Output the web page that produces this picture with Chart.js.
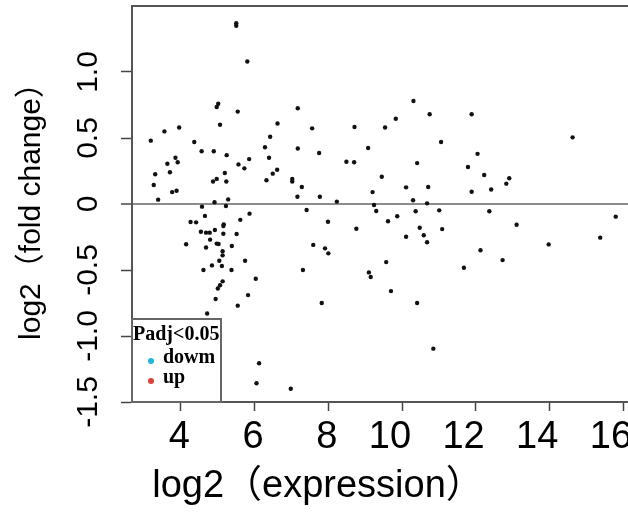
<!DOCTYPE html>
<html>
<head>
<meta charset="utf-8">
<script src="https://cdn.jsdelivr.net/npm/chart.js@4.4.1/dist/chart.umd.min.js"></script>
<style>
  html, body { margin: 0; padding: 0; background: #fff; overflow: hidden; }
  #wrap { width: 628px; height: 516px; overflow: hidden; }
</style>
</head>
<body>
<div id="wrap"><canvas id="maPlot" width="640" height="516"></canvas></div>
<script>
// log2 expression (x) and log2 fold change (y) of each gene
var exprValues = [
  5.50, 5.50, 5.80, 5.01, 4.97, 5.54, 5.06, 3.55, 3.95, 3.18,
  4.36, 4.56, 4.89, 5.24, 6.62, 6.42, 6.28, 6.39, 5.85, 5.56,
  5.72, 6.61, 6.49, 6.32, 7.02, 7.02, 7.16, 7.17, 7.17, 3.85,
  3.91, 3.63, 3.70, 3.30, 3.26, 3.76, 3.88, 3.38, 4.87, 4.97,
  5.19, 5.23, 4.91, 5.28, 7.56, 8.71, 9.54, 9.83, 10.31, 10.75,
  11.06, 7.75, 8.49, 8.70, 9.08, 10.41, 9.45, 7.28, 7.77, 8.23,
  9.20, 10.11, 10.71, 10.30, 10.68, 11.89, 14.63, 12.05, 11.79, 12.23,
  12.91, 12.83, 11.89, 12.42,
  4.57, 5.22, 5.86, 4.65, 5.61, 4.26, 4.41, 5.16, 5.15, 4.92,
  4.54, 4.68, 4.78, 5.15, 5.51, 4.79, 4.14, 4.97, 5.02, 5.38,
  4.68, 5.13, 5.13, 5.74, 5.04, 4.84, 5.11, 4.61, 5.37, 6.03,
  5.13, 5.06, 5.00, 5.82, 4.94, 5.54, 4.71, 6.12, 6.05, 6.98,
  7.41, 9.24, 9.30, 11.01, 10.37, 7.99, 9.62, 9.87, 8.76, 11.09,
  10.48, 10.59, 10.68, 10.11, 7.59, 7.91, 8.00, 7.31, 9.57, 9.10,
  9.15, 9.70, 7.82, 10.41, 10.85, 11.68, 12.13, 12.37, 12.73, 13.11,
  13.98, 15.38, 15.80
];
var foldValues = [
  1.37, 1.35, 1.08, 0.76, 0.735, 0.70, 0.60, 0.55, 0.58, 0.48,
  0.47, 0.40, 0.40, 0.37, 0.61, 0.51, 0.43, 0.35, 0.34, 0.30,
  0.27, 0.26, 0.23, 0.18, 0.19, 0.17, 0.055, 0.725, 0.42, 0.35,
  0.316, 0.305, 0.24, 0.225, 0.144, 0.09, 0.10, 0.033, 0.17, 0.19,
  0.235, 0.17, 0.013, 0.035, 0.573, 0.583, 0.58, 0.646, 0.78, 0.68,
  0.47, 0.386, 0.32, 0.316, 0.424, 0.31, 0.207, 0.129, 0.055, 0.018,
  0.09, 0.126, 0.129, 0.028, 0.005, 0.68, 0.505, 0.38, 0.28, 0.22,
  0.195, 0.154, 0.093, 0.11,
  -0.02, -0.015, -0.073, -0.09, -0.12, -0.136, -0.139, -0.154, -0.167, -0.197,
  -0.21, -0.217, -0.217, -0.225, -0.227, -0.27, -0.305, -0.30, -0.303, -0.318,
  -0.33, -0.358, -0.389, -0.43, -0.43, -0.465, -0.47, -0.50, -0.50, -0.566,
  -0.586, -0.616, -0.64, -0.69, -0.72, -0.77, -0.83, -1.207, -1.358, -1.40,
  -0.045, -0.008, -0.053, -0.048, -0.055, -0.134, -0.131, -0.093, -0.187, -0.19,
  -0.18, -0.237, -0.29, -0.248, -0.31, -0.336, -0.374, -0.50, -0.44, -0.518,
  -0.553, -0.66, -0.75, -0.75, -1.096, -0.483, -0.35, -0.055, -0.425, -0.157,
  -0.306, -0.255, -0.096
];

var xTicks = [4, 6, 8, 10, 12, 14, 16];
var yTicks = [-1.5, -1.0, -0.5, 0, 0.5, 1.0];
var yTickLabels = ['-1.5', '-1.0', '-0.5', '0', '0.5', '1.0'];

var xTitle = 'log2（expression）';
var yTitle = 'log2（fold change）';

var keyTitle = 'Padj<0.05';
var keyLabels = ['dowm', 'up'];
var keyColors = ['#22b4dc', '#de3f3a'];

var sansFont = "'Liberation Sans', Arial, 'Noto Sans CJK SC', sans-serif";
var serifFont = "'Liberation Serif', 'Times New Roman', serif";

var points = exprValues.map(function (x, i) {
    return { x: x, y: foldValues[i] };
});

// box around the plot, the x title (centred on the page, not the axis) and the key
var frameAndKey = {
    id: 'frameAndKey',
    afterDraw: function (chart) {
        var ctx = chart.ctx;
        var a = chart.chartArea;
        ctx.save();
        ctx.strokeStyle = '#555';
        ctx.lineWidth = 2;
        ctx.strokeRect(a.left, a.top, a.right - a.left, a.bottom - a.top);

        ctx.fillStyle = '#000';
        ctx.font = '38px ' + sansFont;
        ctx.textAlign = 'center';
        ctx.textBaseline = 'middle';
        ctx.fillText(xTitle, 318, 487);

        var boxW = 89, boxH = 83;
        var bx = a.left, by = a.bottom - boxH;
        ctx.fillStyle = '#fff';
        ctx.fillRect(bx, by, boxW, boxH);
        ctx.strokeStyle = '#666';
        ctx.strokeRect(bx, by, boxW, boxH);

        ctx.fillStyle = '#000';
        ctx.textBaseline = 'alphabetic';
        ctx.textAlign = 'left';
        ctx.font = 'bold 20px ' + serifFont;
        ctx.fillText(keyTitle, bx + 1, by + 21);
        for (var i = 0; i < keyLabels.length; i++) {
            var ly = by + 44 + i * 20;
            ctx.fillStyle = keyColors[i];
            ctx.beginPath();
            ctx.arc(bx + 19, ly - 2, 3, 0, Math.PI * 2);
            ctx.fill();
            ctx.fillStyle = '#000';
            ctx.fillText(keyLabels[i], bx + 31, ly);
        }
        ctx.restore();
    }
};

window.onload = function () {
    var ctx = document.getElementById('maPlot').getContext('2d');
    new Chart(ctx, {
        type: 'scatter',
        data: {
            datasets: [{
                label: 'genes',
                data: points,
                backgroundColor: '#111',
                borderWidth: 0,
                pointRadius: 2.2,
                pointHoverRadius: 2.2
            }]
        },
        options: {
            responsive: false,
            animation: false,
            events: [],
            layout: { padding: { top: 6, right: 2, left: 0, bottom: 0 } },
            plugins: {
                legend: { display: false },
                tooltip: { enabled: false }
            },
            scales: {
                x: {
                    type: 'linear',
                    min: 2.67,
                    max: 16.4,
                    afterBuildTicks: function (s) {
                        s.ticks = xTicks.map(function (v) { return { value: v }; });
                    },
                    afterFit: function (s) {
                        s.height = 114;
                        s.paddingLeft = 0;
                        s.paddingRight = 0;
                    },
                    border: { display: true, color: '#555', width: 2 },
                    grid: {
                        drawOnChartArea: false,
                        tickColor: '#444',
                        tickLength: 9,
                        tickWidth: 1.5
                    },
                    ticks: {
                        color: '#000',
                        padding: 4,
                        maxRotation: 0,
                        align: 'end',
                        labelOffset: 9,
                        font: { family: sansFont, size: 38 }
                    },
                    title: { display: false }
                },
                y: {
                    type: 'linear',
                    min: -1.5,
                    max: 1.5,
                    afterBuildTicks: function (s) {
                        s.ticks = yTicks.map(function (v) { return { value: v }; });
                    },
                    afterFit: function (s) {
                        s.width = 132;
                        s.paddingTop = 0;
                        s.paddingBottom = 0;
                    },
                    border: { display: true, color: '#555', width: 2 },
                    grid: {
                        color: function (c) {
                            return c.tick && c.tick.value === 0 ? '#8c8c8c' : 'rgba(0,0,0,0)';
                        },
                        lineWidth: function (c) {
                            return c.tick && c.tick.value === 0 ? 2 : 1;
                        },
                        tickColor: '#444',
                        tickLength: 11,
                        tickWidth: 1.5
                    },
                    ticks: {
                        color: '#000',
                        minRotation: 90,
                        maxRotation: 90,
                        crossAlign: 'center',
                        padding: 6,
                        font: { family: sansFont, size: 30 },
                        callback: function (v) {
                            var k = yTicks.indexOf(v);
                            return k >= 0 ? yTickLabels[k] : '';
                        }
                    },
                    title: {
                        display: true,
                        text: yTitle,
                        color: '#000',
                        padding: { top: 14, bottom: 0 },
                        font: { family: sansFont, size: 30 }
                    }
                }
            }
        },
        plugins: [frameAndKey]
    });
};
</script>
</body>
</html>
